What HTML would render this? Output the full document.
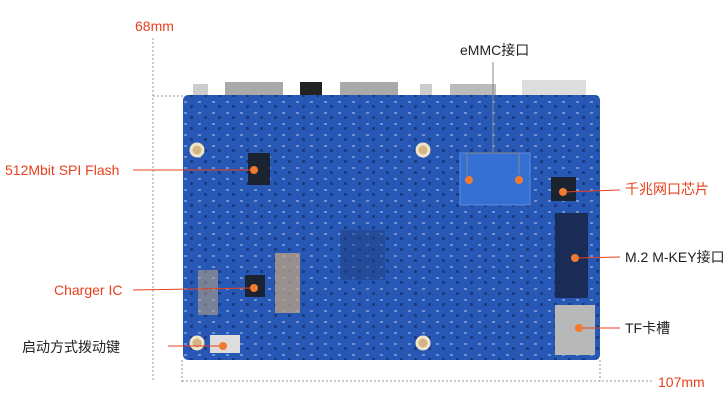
<!DOCTYPE html>
<html><head><meta charset="utf-8"><style>
body{margin:0;background:#fff;width:724px;height:404px;overflow:hidden}
text{font-family:"Liberation Sans","Noto Sans CJK SC",sans-serif;font-size:14px}
</style></head><body>
<svg width="724" height="404" viewBox="0 0 724 404">
<defs>
<pattern id="pt" width="14" height="11" patternUnits="userSpaceOnUse">
<rect x="2" y="2" width="3" height="2" fill="#8fa9d6"/><rect x="8" y="6" width="3" height="3" fill="#15306a"/>
</pattern>
</defs>
<line x1="153" y1="38" x2="153" y2="382" stroke="#999" stroke-dasharray="2,2"/>
<line x1="153" y1="96" x2="183" y2="96" stroke="#999" stroke-dasharray="2,2"/>
<line x1="182" y1="360" x2="182" y2="382" stroke="#999" stroke-dasharray="2,2"/>
<line x1="182" y1="381" x2="652" y2="381" stroke="#999" stroke-dasharray="2,2"/>
<line x1="600" y1="360" x2="600" y2="381" stroke="#999" stroke-dasharray="2,2"/>
<text x="135" y="31" fill="#e8401c" font-size="13">68mm</text>
<text x="658" y="387" fill="#e8401c" font-size="13">107mm</text>
<rect x="193" y="84" width="15" height="14" fill="#ccc"/>
<rect x="225" y="82" width="58" height="16" fill="#a9a9a9"/>
<rect x="300" y="82" width="22" height="16" fill="#222"/>
<rect x="340" y="82" width="58" height="16" fill="#a9a9a9"/>
<rect x="420" y="84" width="12" height="14" fill="#ccc"/>
<rect x="450" y="84" width="46" height="14" fill="#bbb"/>
<rect x="522" y="80" width="64" height="18" fill="#ddd"/>
<rect x="183" y="95" width="417" height="265" rx="5" fill="#2858b5"/>
<rect x="183" y="95" width="417" height="265" rx="5" fill="url(#pt)" opacity="0.7"/>
<rect x="460" y="153" width="70" height="52" fill="#3570d4" stroke="#5b8ae0"/>
<rect x="555" y="213" width="33" height="85" fill="#1a2b55"/>
<rect x="555" y="305" width="40" height="50" fill="#b8b8b8"/>
<rect x="248" y="153" width="22" height="32" fill="#1b2230"/>
<rect x="245" y="275" width="20" height="22" fill="#1b2230"/>
<rect x="551" y="177" width="25" height="24" fill="#1b2230"/>
<rect x="210" y="335" width="30" height="18" fill="#ddd"/>
<rect x="275" y="253" width="25" height="60" fill="#c9a77e" opacity="0.7"/>
<rect x="198" y="270" width="20" height="45" fill="#c9a77e" opacity="0.5"/>
<rect x="340" y="230" width="45" height="50" fill="#1d3d80" opacity="0.5"/>
<g fill="#d4b483" stroke="#f0e4c8" stroke-width="3">
<circle cx="197" cy="150" r="6"/><circle cx="423" cy="150" r="6"/>
<circle cx="423" cy="343" r="6"/><circle cx="197" cy="343" r="6"/>
</g>
<g stroke="#e8401c" stroke-width="1">
<line x1="133" y1="170" x2="254" y2="170"/>
<line x1="133" y1="290" x2="254" y2="288"/>
<line x1="168" y1="346" x2="223" y2="346"/>
<line x1="563" y1="192" x2="620" y2="190"/>
<line x1="575" y1="258" x2="620" y2="257"/>
<line x1="579" y1="328" x2="620" y2="328"/>
</g>
<g stroke="#888" fill="none"><path d="M493 62V153M467 153H519M467 153V175M519 153V175"/></g>
<g fill="#f07a30">
<circle cx="254" cy="170" r="4"/><circle cx="254" cy="288" r="4"/><circle cx="223" cy="346" r="4"/>
<circle cx="469" cy="180" r="4"/><circle cx="519" cy="180" r="4"/>
<circle cx="563" cy="192" r="4"/><circle cx="575" cy="258" r="4"/><circle cx="579" cy="328" r="4"/>
</g>
<text x="5" y="175" fill="#e8401c">512Mbit SPI Flash</text>
<text x="54" y="295" fill="#e8401c">Charger IC</text>
<text x="22" y="352" fill="#222">启动方式拨动键</text>
<text x="460" y="55" fill="#222">eMMC接口</text>
<text x="625" y="194" fill="#e8401c">千兆网口芯片</text>
<text x="625" y="262" fill="#222">M.2 M-KEY接口</text>
<text x="625" y="333" fill="#222">TF卡槽</text>
</svg>
</body></html>
